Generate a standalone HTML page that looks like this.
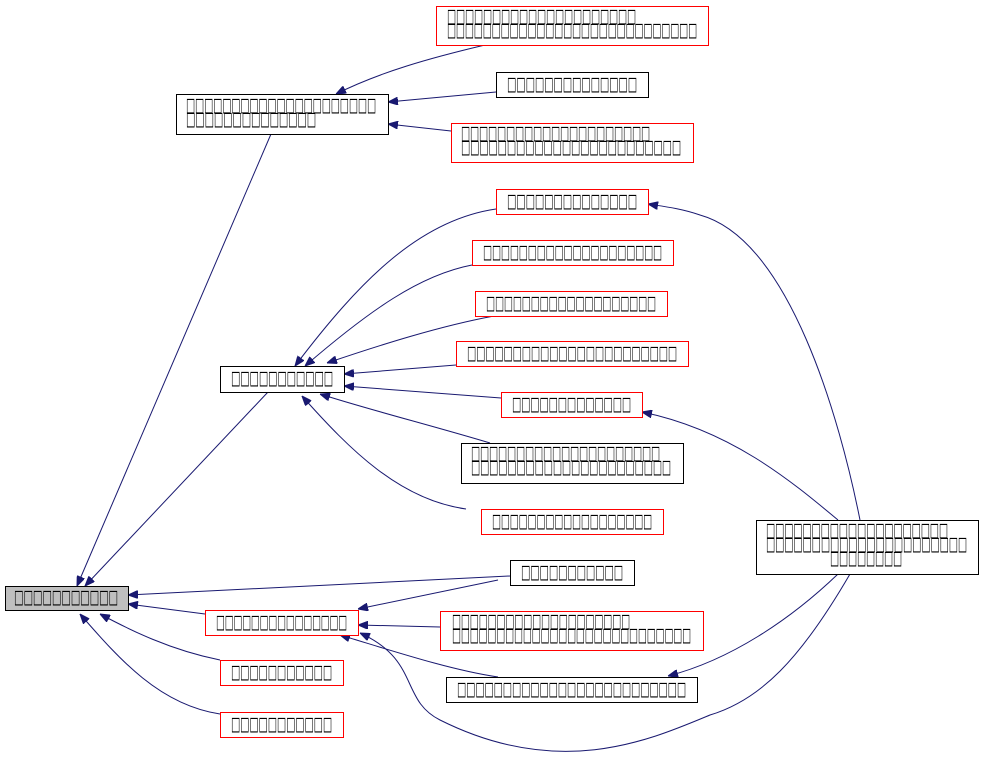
<!DOCTYPE html>
<html><head><meta charset="utf-8"><style>
html,body{margin:0;padding:0;background:#fff;width:984px;height:760px;overflow:hidden}
text{font-family:"DejaVu Sans","Liberation Sans",sans-serif;font-size:19px;fill:#000}
</style></head><body>
<svg width="984" height="760" viewBox="0 0 984 760" xmlns="http://www.w3.org/2000/svg">
<defs><marker id="a" markerWidth="10" markerHeight="8" refX="10" refY="4" orient="auto" markerUnits="userSpaceOnUse"><path d="M0,0 L10,4 L0,8 z" fill="#191970" stroke="#191970"/></marker></defs>
<g fill="none" stroke="#191970" stroke-width="1" marker-end="url(#a)">
<path d="M271,134 L77,586"/>
<path d="M268,392 L85,586"/>
<path d="M510,576 L128,595"/>
<path d="M205,614 L128,604"/>
<path d="M220,660 C170,650 130,630 100,614"/>
<path d="M220,714 C160,705 120,660 80,614"/>
<path d="M485,45 C430,58 380,72 336,94"/>
<path d="M496,92 L388,102"/>
<path d="M451,131 L388,124"/>
<path d="M496,209 C420,220 360,280 295,366"/>
<path d="M472,265 C420,275 370,310 305,366"/>
<path d="M494,316 C440,326 380,345 327,363"/>
<path d="M456,365 L344,374"/>
<path d="M501,398 L344,386"/>
<path d="M490,443 C430,425 370,410 320,394"/>
<path d="M466,509 C400,500 350,450 302,396"/>
<path d="M498,580 L358,609"/>
<path d="M440,627 L358,625"/>
<path d="M498,677 C450,670 390,650 340,635"/>
<path d="M850,574 C800,660 760,700 710,715 C650,740 560,780 440,720 C400,700 420,660 360,633"/>
<path d="M860,520 C840,420 790,240 700,215 C680,208 660,206 648,204"/>
<path d="M838,520 C790,480 730,430 642,412"/>
<path d="M838,574 C790,620 730,660 668,676"/>
</g>
<g stroke-width="1">
<rect x="5.5" y="586.5" width="123" height="24" fill="#bfbfbf" stroke="#000"/>
<rect x="176.5" y="94.5" width="212" height="40" fill="#fff" stroke="#000"/>
<rect x="220.5" y="366.5" width="124" height="26" fill="#fff" stroke="#000"/>
<rect x="205.5" y="610.5" width="153" height="25" fill="#fff" stroke="red"/>
<rect x="220.5" y="660.5" width="123" height="25" fill="#fff" stroke="red"/>
<rect x="220.5" y="712.5" width="123" height="25" fill="#fff" stroke="red"/>
<rect x="436.5" y="6.5" width="272" height="39" fill="#fff" stroke="red"/>
<rect x="496.5" y="72.5" width="152" height="25" fill="#fff" stroke="#000"/>
<rect x="451.5" y="123.5" width="242" height="39" fill="#fff" stroke="red"/>
<rect x="496.5" y="189.5" width="152" height="25" fill="#fff" stroke="red"/>
<rect x="472.5" y="240.5" width="201" height="25" fill="#fff" stroke="red"/>
<rect x="475.5" y="291.5" width="192" height="25" fill="#fff" stroke="red"/>
<rect x="456.5" y="341.5" width="232" height="25" fill="#fff" stroke="red"/>
<rect x="501.5" y="392.5" width="141" height="25" fill="#fff" stroke="red"/>
<rect x="461.5" y="443.5" width="222" height="40" fill="#fff" stroke="#000"/>
<rect x="481.5" y="509.5" width="182" height="25" fill="#fff" stroke="red"/>
<rect x="510.5" y="560.5" width="124" height="25" fill="#fff" stroke="#000"/>
<rect x="440.5" y="611.5" width="263" height="39" fill="#fff" stroke="red"/>
<rect x="446.5" y="677.5" width="251" height="25" fill="#fff" stroke="#000"/>
<rect x="756.5" y="520.5" width="222" height="54" fill="#fff" stroke="#000"/>
</g>
<g>
<text x="14" y="603" textLength="104" lengthAdjust="spacingAndGlyphs">□□□□□□□□□□□</text>
<text x="186" y="111" textLength="190" lengthAdjust="spacingAndGlyphs">□□□□□□□□□□□□□□□□□□□□□</text>
<text x="186" y="125" textLength="130" lengthAdjust="spacingAndGlyphs">□□□□□□□□□□□□□□</text>
<text x="231" y="384" textLength="102" lengthAdjust="spacingAndGlyphs">□□□□□□□□□□□</text>
<text x="216" y="628" textLength="131" lengthAdjust="spacingAndGlyphs">□□□□□□□□□□□□□□□</text>
<text x="231" y="678" textLength="101" lengthAdjust="spacingAndGlyphs">□□□□□□□□□□□</text>
<text x="231" y="730" textLength="101" lengthAdjust="spacingAndGlyphs">□□□□□□□□□□□</text>
<text x="447" y="22" textLength="189" lengthAdjust="spacingAndGlyphs">□□□□□□□□□□□□□□□□□□□□□</text>
<text x="447" y="36" textLength="250" lengthAdjust="spacingAndGlyphs">□□□□□□□□□□□□□□□□□□□□□□□□□□□□</text>
<text x="507" y="90" textLength="130" lengthAdjust="spacingAndGlyphs">□□□□□□□□□□□□□□</text>
<text x="461" y="139" textLength="189" lengthAdjust="spacingAndGlyphs">□□□□□□□□□□□□□□□□□□□□□</text>
<text x="461" y="153" textLength="220" lengthAdjust="spacingAndGlyphs">□□□□□□□□□□□□□□□□□□□□□□□□</text>
<text x="507" y="207" textLength="130" lengthAdjust="spacingAndGlyphs">□□□□□□□□□□□□□□</text>
<text x="483" y="258" textLength="179" lengthAdjust="spacingAndGlyphs">□□□□□□□□□□□□□□□□□□□□</text>
<text x="486" y="309" textLength="170" lengthAdjust="spacingAndGlyphs">□□□□□□□□□□□□□□□□□□□</text>
<text x="467" y="359" textLength="210" lengthAdjust="spacingAndGlyphs">□□□□□□□□□□□□□□□□□□□□□□□</text>
<text x="512" y="410" textLength="119" lengthAdjust="spacingAndGlyphs">□□□□□□□□□□□□□</text>
<text x="471" y="459" textLength="189" lengthAdjust="spacingAndGlyphs">□□□□□□□□□□□□□□□□□□□□□</text>
<text x="471" y="473" textLength="200" lengthAdjust="spacingAndGlyphs">□□□□□□□□□□□□□□□□□□□□□□</text>
<text x="492" y="527" textLength="160" lengthAdjust="spacingAndGlyphs">□□□□□□□□□□□□□□□□□□</text>
<text x="521" y="578" textLength="102" lengthAdjust="spacingAndGlyphs">□□□□□□□□□□□</text>
<text x="452" y="627" textLength="178" lengthAdjust="spacingAndGlyphs">□□□□□□□□□□□□□□□□□□□□</text>
<text x="452" y="641" textLength="239" lengthAdjust="spacingAndGlyphs">□□□□□□□□□□□□□□□□□□□□□□□□□□□</text>
<text x="457" y="695" textLength="229" lengthAdjust="spacingAndGlyphs">□□□□□□□□□□□□□□□□□□□□□□□□□</text>
<text x="766" y="536" textLength="182" lengthAdjust="spacingAndGlyphs">□□□□□□□□□□□□□□□□□□□□</text>
<text x="766" y="550" textLength="201" lengthAdjust="spacingAndGlyphs">□□□□□□□□□□□□□□□□□□□□□□</text>
<text x="830" y="564" textLength="72" lengthAdjust="spacingAndGlyphs">□□□□□□□□</text>
</g>
</svg>
</body></html>
